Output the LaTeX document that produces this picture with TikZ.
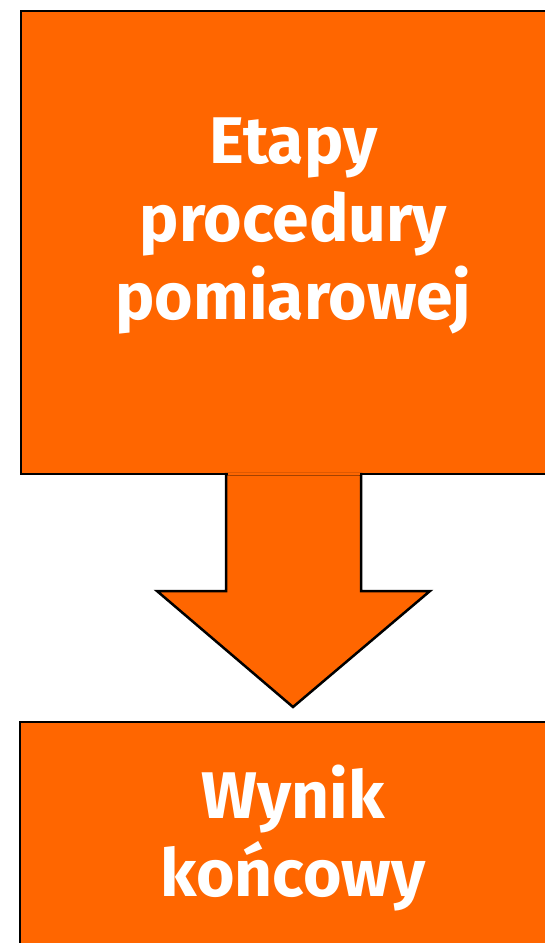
\documentclass[tikz,border=0pt]{standalone}
\usepackage{fontspec}
\setmainfont{Fira Sans}
\definecolor{boxorange}{HTML}{FF6600}
\begin{document}
\begin{tikzpicture}[x=1pt,y=-1pt,
  orangebox/.style={draw=black, line width=2.5pt, fill=boxorange, inner sep=0pt},
  boxtext/.style={inner sep=0pt, text=white, align=center,
    font=\fontsize{66}{78}\selectfont\bfseries},
  bigarrow/.style={draw=black, line width=2.5pt, fill=boxorange, line join=miter}]
\useasboundingbox (0,0) rectangle (545,943);
\node[orangebox, minimum width=545pt, minimum height=463pt] (top) at (293.5,242.5) {};
\node[boxtext] (toptext) at (293.5,226) {Etapy\\procedury\\pomiarowej};
\node[orangebox, minimum width=546pt, minimum height=226pt] (bottom) at (293,835) {};
\node[boxtext] (bottomtext) at (293,838) {Wynik\\końcowy};
\coordinate (sl) at (226,474);
\coordinate (sr) at (361,474);
\coordinate (tip) at (293,707);
\draw[bigarrow] (sl) -- (sr) -- (361,591) -- (430,591) -- (tip) -- (157,591) -- (226,591) -- cycle;
\draw[line width=2.5pt, boxorange] (227.5,474) -- (359.5,474);
\end{tikzpicture}
\end{document}
